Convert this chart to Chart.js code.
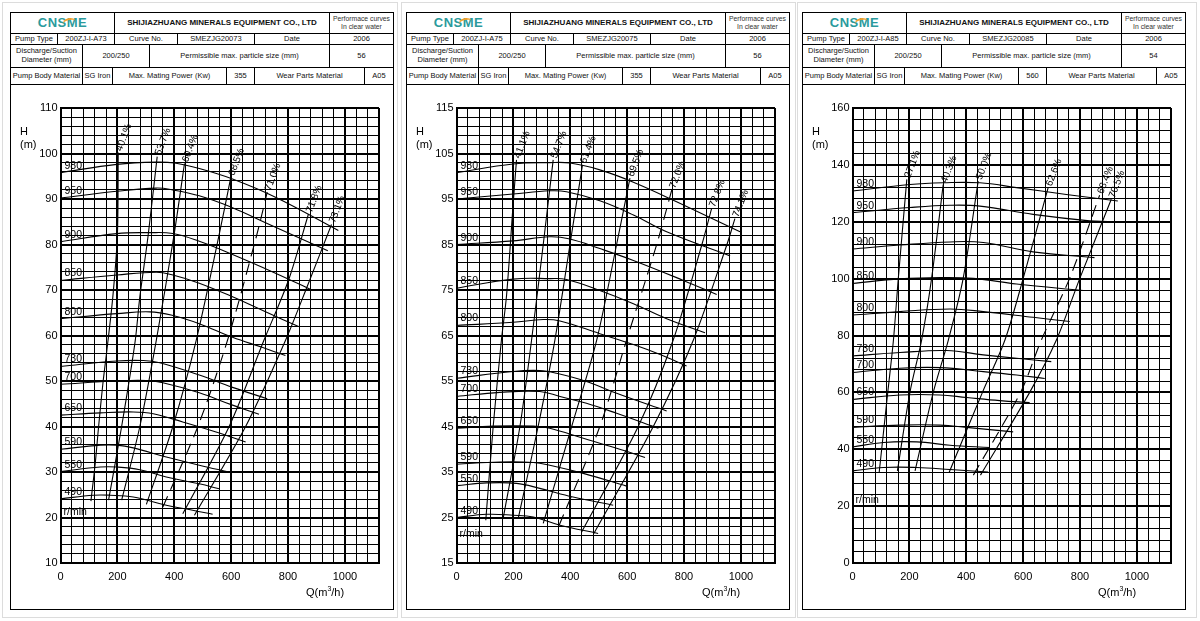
<!DOCTYPE html>
<html>
<head>
<meta charset="utf-8">
<script src="https://cdn.jsdelivr.net/npm/chart.js@4.4.1/dist/chart.umd.min.js"></script>
<style>
  body { margin: 0; background: #fff; font-family: "Liberation Sans", Arial, sans-serif; }
  .frame { position: absolute; top: 2px; height: 616px; border: 1px solid #dcdcdc; box-sizing: border-box; }
  .panel { position: absolute; top: 12px; width: 384px; height: 598px; border: 1px solid #000; box-sizing: border-box; background: #fff; }
  .row { display: flex; border-bottom: 1px solid #000; box-sizing: border-box; }
  .row > div { border-right: 1px solid #000; box-sizing: border-box; display: flex; align-items: center;
    justify-content: center; text-align: center; font-size: 7.5px; line-height: 1.15; color: #111; overflow: hidden; }
  .row > div:last-child { border-right: none; flex: 1; }
  .row > div.perf { font-size: 6.8px; color: #333; }
  .title { font-weight: bold; font-size: 8px !important; }
  .logo { position: relative; font-weight: bold; font-size: 13px !important; color: #2b9a9c !important; letter-spacing: 0.5px; }
  .logo .arc { position: absolute; left: 50%; top: 2px; width: 13px; height: 7px; margin-left: 1px;
    border-top: 2px solid #f0a02c; border-radius: 60% 60% 0 0; transform: rotate(-12deg); }
  .plot { position: absolute; left: 0; top: 72px; width: 382px; height: 524px; }
  .axt { position: absolute; font-size: 11px; line-height: 12px; color: #000; }
</style>
</head>
<body>
<div id="root"></div>
<script>
// speeds (r/min) shared by all three charts
const rpmList = [980, 950, 900, 850, 800, 730, 700, 650, 590, 550, 490];

// header texts
const pumpTypes = ["200ZJ-I-A73", "200ZJ-I-A75", "200ZJ-I-A85"];
const curveNos = ["SMEZJG20073", "SMEZJG20075", "SMEZJG20085"];
const particleSizes = ["56", "56", "54"];
const matingPowers = ["355", "355", "560"];

// axes
const yMins = [10, 15, 0];
const yMaxs = [110, 115, 160];
const yMinorSteps = [2, 2, 4];
const yLabelSteps = [10, 10, 20];
const xMax = 1120;
const xMinorStep = 40;
const xLabelStep = 200;

// 200ZJ-I-A73 : H-Q curves per speed, [Q, H]
const a73Speed = [
  [[0,95.8],[198,97.6],[337,98.1],[401,97.9],[488,96.7],[605,94.4],[756,90.4],[977,83.1]],
  [[0,90.2],[198,91.7],[337,92.4],[395,92.0],[488,90.7],[605,88.1],[721,84.8],[940,78.6]],
  [[0,80.6],[198,82.4],[314,82.6],[395,82.4],[488,80.7],[605,77.8],[756,73.7],[884,70.0]],
  [[0,72.1],[198,73.3],[337,73.9],[395,73.3],[488,71.5],[605,68.5],[721,65.2],[837,62.0]],
  [[0,63.7],[198,64.8],[314,65.2],[395,64.4],[488,62.6],[605,59.6],[709,57.4],[791,55.6]],
  [[0,53.2],[198,54.4],[291,54.5],[349,54.0],[488,51.3],[605,48.6],[727,46.1]],
  [[0,49.3],[198,50.0],[302,50.1],[360,49.6],[488,47.4],[605,44.7],[698,42.7]],
  [[0,42.5],[140,43.0],[256,43.2],[326,42.8],[430,41.0],[547,38.8],[651,36.6]],
  [[0,35.0],[140,35.9],[198,35.9],[256,35.3],[372,33.3],[488,31.5],[593,30.0]],
  [[0,30.1],[140,31.1],[198,31.1],[279,30.5],[372,28.9],[488,27.4],[558,26.3]],
  [[0,24.1],[116,24.9],[174,24.9],[256,24.5],[372,22.7],[465,21.6],[535,20.7]]
];
const a73EffLabels = ["40.1%", "53.7%", "60.4%", "68.5%", "71.0%", "71.8%", "73.1%"];
const a73Eff = [
  [[107,23.6],[122,31.8],[134,40],[149,49.4],[163,56.7],[184,68.5],[200,81.9],[203,100.2]],
  [[169,23.8],[215,40],[262,58.5],[279,68.5],[308,81.9],[340,99.3]],
  [[215,23.8],[279,40],[337,59],[399,82],[436,97.8]],
  [[302,22.9],[395,40],[477,58.9],[557,81.9],[599,94.8]],
  [[360,22.3],[483,40],[587,58.9],[686,81.1],[727,91.5]],
  [[430,20.8],[593,40],[715,58.9],[802,72.2],[872,86.7]],
  [[471,20.5],[651,40],[791,58.9],[872,71.5],[953,84.4]]
];

// 200ZJ-I-A75
const a75Speed = [
  [[0,100.8],[199,102.7],[328,103.0],[399,102.9],[504,101.4],[622,98.7],[774,94.4],[997,87.8]],
  [[0,95.0],[199,96.1],[328,96.8],[387,96.6],[504,94.6],[622,91.5],[739,87.8],[962,82.5]],
  [[0,85.0],[199,85.8],[328,86.7],[399,86.2],[504,84.1],[622,81.5],[798,77.1],[915,74.0]],
  [[0,75.4],[199,77.4],[328,77.5],[387,77.3],[504,74.9],[622,72.0],[739,68.7],[874,65.6]],
  [[0,67.2],[199,67.9],[305,68.5],[364,68.2],[504,65.4],[622,63.0],[716,60.8],[809,58.3]],
  [[0,55.6],[199,57.1],[293,57.3],[352,56.7],[457,54.9],[563,52.3],[739,48.4]],
  [[0,51.6],[152,52.5],[293,52.7],[364,51.6],[457,50.1],[563,47.9],[710,44.6]],
  [[0,44.6],[129,45.1],[270,45.1],[328,44.6],[446,42.4],[563,40.2],[663,38.2]],
  [[0,36.7],[152,37.2],[270,37.1],[328,36.5],[446,34.7],[598,31.9]],
  [[0,32.0],[106,32.6],[211,32.5],[293,31.4],[410,29.5],[551,27.7]],
  [[0,25.0],[106,25.7],[199,25.5],[270,25.1],[364,23.3],[498,21.5]]
];
const a75EffLabels = ["41.1%", "54.7%", "61.4%", "69.5%", "72.0%", "72.8%", "74.1%"];
const a75Eff = [
  [[103,24.4],[129,45],[158,64],[176,73.8],[199,93.7],[211,103.6]],
  [[164,24.8],[223,45],[264,64],[305,85],[340,103.6]],
  [[217,24.8],[287,45],[346,64],[399,85],[443,102.5]],
  [[305,23.7],[405,45],[493,64],[563,85],[610,99.6]],
  [[361,23.3],[504,45],[598,64],[704,85],[757,97.0]],
  [[440,21.8],[639,45],[762,64],[863,85],[897,92.9]],
  [[483,21.5],[692,45],[833,64],[951,85],[979,90.7]]
];

// 200ZJ-I-A85
const a85Speed = [
  [[0,130.8],[202,133.1],[319,133.7],[448,133.7],[577,132.0],[752,129.6],[933,127.3]],
  [[0,123.2],[202,125.0],[343,125.8],[448,125.5],[635,122.6],[834,120.3],[898,120.1]],
  [[0,110.4],[167,111.8],[343,112.9],[460,112.7],[635,109.4],[851,107.4]],
  [[0,98.3],[167,99.9],[308,100.4],[425,100.1],[577,98.1],[811,95.8]],
  [[0,87.2],[167,88.4],[343,89.3],[460,88.4],[635,86.4],[764,84.9]],
  [[0,72.8],[167,74.0],[331,74.7],[460,73.2],[577,72.0],[699,70.8]],
  [[0,67.0],[167,68.5],[308,68.7],[460,67.3],[577,66.1],[676,64.9]],
  [[0,57.5],[167,59.1],[308,59.1],[401,58.2],[518,57.1],[623,56.4]],
  [[0,47.7],[167,48.5],[308,48.5],[401,47.7],[565,46.1]],
  [[0,40.8],[109,42.4],[226,42.6],[343,41.4],[483,40.6]],
  [[0,32.4],[109,33.6],[226,33.6],[343,32.9],[477,32.0]]
];
const a85EffLabels = ["27.1%", "40.3%", "50.0%", "62.6%", "68.4%", "70.5%"];
const a85Eff = [
  [[94,32.0],[124,60],[144,78.4],[161,100],[191,134.9]],
  [[158,32.4],[202,60],[243,78.4],[278,100],[319,133.1]],
  [[220,32.4],[284,60],[337,78.4],[389,100],[442,134.3]],
  [[340,31.9],[457,60],[536,78.4],[600,100],[688,132.0]],
  [[425,30.9],[591,60],[664,78.4],[763,100],[869,129.3]],
  [[450,30.9],[623,60],[717,78.4],[799,100],[910,127.9]]
];

const panels = [
  { left: 10, speed: a73Speed, eff: a73Eff, effLabels: a73EffLabels, dashed: 4, rpmLabelH: 21.2 },
  { left: 406, speed: a75Speed, eff: a75Eff, effLabels: a75EffLabels, dashed: 4, rpmLabelH: 21.3 },
  { left: 802, speed: a85Speed, eff: a85Eff, effLabels: a85EffLabels, dashed: 4, rpmLabelH: 22 }
];
const frames = [[2, 396], [401, 395], [797, 400]];

const FONT = '"Liberation Sans", Arial, sans-serif';

function headerHtml(i) {
  return `
    <div class="row" style="height:21px">
      <div style="width:104px" class="logo">CN<span style="position:relative">S<span class="arc"></span></span>ME</div>
      <div style="width:215px" class="title">SHIJIAZHUANG MINERALS EQUIPMENT CO., LTD</div>
      <div class="perf">Performace curves<br>In clear water</div>
    </div>
    <div class="row" style="height:11px">
      <div style="width:47px">Pump Type</div>
      <div style="width:57px">${pumpTypes[i]}</div>
      <div style="width:63px">Curve No.</div>
      <div style="width:77px">${curveNos[i]}</div>
      <div style="width:75px">Date</div>
      <div>2006</div>
    </div>
    <div class="row" style="height:23px">
      <div style="width:72px">Discharge/Suction<br>Diameter (mm)</div>
      <div style="width:67px">200/250</div>
      <div style="width:180px">Permissible max. particle size (mm)</div>
      <div>${particleSizes[i]}</div>
    </div>
    <div class="row" style="height:17px">
      <div style="width:72px">Pump Body Material</div>
      <div style="width:30px">SG Iron</div>
      <div style="width:114px">Max. Mating Power (Kw)</div>
      <div style="width:28px">${matingPowers[i]}</div>
      <div style="width:110px">Wear Parts Material</div>
      <div>A05</div>
    </div>`;
}

function labelPlugin(cfg) {
  return {
    id: "curveLabels",
    afterDatasetsDraw(chart) {
      const ctx = chart.ctx;
      const x = chart.scales.x, y = chart.scales.y;
      ctx.save();
      ctx.fillStyle = "#000";
      ctx.textAlign = "left";
      ctx.font = "10.5px " + FONT;
      ctx.textBaseline = "alphabetic";
      rpmList.forEach((rpm, k) => {
        const first = cfg.speed[k][0];
        ctx.fillText(String(rpm), x.getPixelForValue(first[0]) + 4, y.getPixelForValue(first[1]) - 4);
      });
      ctx.textBaseline = "middle";
      ctx.fillText("r/min", x.left + 3, y.getPixelForValue(cfg.rpmLabelH));
      ctx.font = "10px " + FONT;
      cfg.effLabels.forEach((lbl, k) => {
        const line = cfg.eff[k];
        const top = line[line.length - 1];
        ctx.save();
        ctx.translate(x.getPixelForValue(top[0]), y.getPixelForValue(top[1]));
        ctx.rotate(-69 * Math.PI / 180);
        ctx.fillText(lbl, 2, 0);
        ctx.restore();
      });
      ctx.restore();
    }
  };
}

function makeChart(i) {
  const cfg = panels[i];
  const yMin = yMins[i], yMax = yMaxs[i];
  const datasets = [];
  cfg.speed.forEach((pts) => {
    datasets.push({
      data: pts.map((p) => ({ x: p[0], y: p[1] })),
      borderColor: "#000", borderWidth: 1.1, showLine: true,
      pointRadius: 0, tension: 0.4
    });
  });
  cfg.eff.forEach((pts, k) => {
    datasets.push({
      data: pts.map((p) => ({ x: p[0], y: p[1] })),
      borderColor: "#000", borderWidth: 1.1, showLine: true,
      borderDash: k === cfg.dashed ? [12, 7] : [],
      pointRadius: 0, tension: 0.3
    });
  });

  const xMajor = (v) => v % xLabelStep === 0 || v === xMax;
  const yMajor = (v) => (v - yMin) % yLabelSteps[i] === 0 || v === yMax;

  new Chart(document.getElementById("c" + i), {
    type: "scatter",
    data: { datasets },
    plugins: [labelPlugin(cfg)],
    options: {
      responsive: false,
      devicePixelRatio: 1,
      animation: false,
      events: [],
      layout: { padding: { top: 23, right: 14, bottom: 0, left: 0 } },
      plugins: { legend: { display: false }, tooltip: { enabled: false } },
      scales: {
        x: {
          type: "linear", min: 0, max: xMax,
          afterFit: (s) => { s.height = 46; },
          border: { display: true, color: "#000", width: 2 },
          grid: {
            color: "#000", drawTicks: false,
            lineWidth: (c) => (c.tick && xMajor(c.tick.value) ? 2 : 1)
          },
          ticks: {
            stepSize: xMinorStep, autoSkip: false, maxRotation: 0, padding: 7,
            color: "#000", font: { family: FONT, size: 11 },
            callback: (v) => (v % xLabelStep === 0 ? String(v) : "")
          }
        },
        y: {
          type: "linear", min: yMin, max: yMax,
          afterFit: (s) => { s.width = 49.5; },
          border: { display: true, color: "#000", width: 2 },
          grid: {
            color: "#000", drawTicks: false,
            lineWidth: (c) => (c.tick && yMajor(c.tick.value) ? 2 : 1)
          },
          ticks: {
            stepSize: yMinorSteps[i], autoSkip: false, padding: 3,
            color: "#000", font: { family: FONT, size: 11 },
            callback: (v) => ((v - yMin) % yLabelSteps[i] === 0 ? String(v) : "")
          }
        }
      }
    }
  });
}

const root = document.getElementById("root");
let html = "";
frames.forEach((f) => {
  html += `<div class="frame" style="left:${f[0]}px;width:${f[1]}px"></div>`;
});
panels.forEach((p, i) => {
  html += `<div class="panel" style="left:${p.left}px">
    ${headerHtml(i)}
    <div class="plot"><canvas id="c${i}" width="382" height="524"></canvas></div>
    <div class="axt" style="left:9px;top:112px">H</div>
    <div class="axt" style="left:9px;top:125px">(m)</div>
    <div class="axt" style="left:295px;top:573px">Q(m<sup style="font-size:7px;line-height:0">3</sup>/h)</div>
  </div>`;
});
root.innerHTML = html;
panels.forEach((p, i) => makeChart(i));
</script>
</body>
</html>
